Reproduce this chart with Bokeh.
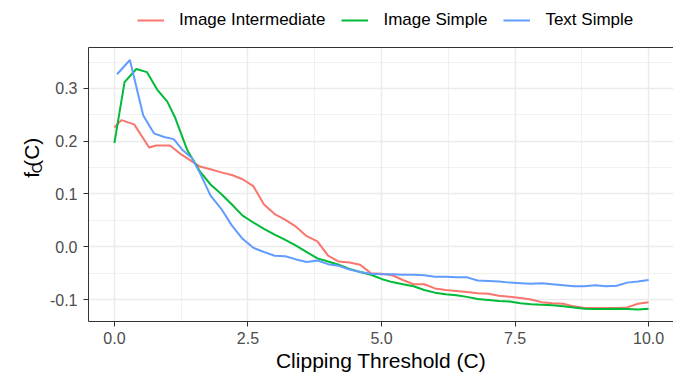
import math
from bokeh.plotting import figure
from bokeh.layouts import column, row
from bokeh.models import FixedTicker, LinearAxis, Legend, LegendItem, Range1d
from bokeh.core.properties import value
from bokeh.embed import file_html
from bokeh.resources import INLINE

# ---------------- data ----------------
series_names = ["Image Intermediate", "Image Simple", "Text Simple"]
series_colors = ["#F8766D", "#00BA38", "#619CFF"]

grid_x = [1.4, 1.6, 1.8, 2.0, 2.2, 2.4, 2.6, 2.8, 3.0, 3.2, 3.4, 3.6, 3.8, 4.0,
          4.2, 4.4, 4.6, 4.8, 5.0, 5.2, 5.4, 5.6, 5.8, 6.0, 6.2, 6.4, 6.6, 6.8,
          7.0, 7.2, 7.4, 7.6, 7.8, 8.0, 8.2, 8.4, 8.6, 8.8, 9.0, 9.2, 9.4, 9.6,
          9.8, 10.0]

inter_x = [0.0, 0.13, 0.37, 0.65, 0.78, 1.04, 1.25] + grid_x
inter_y = [0.226, 0.240, 0.232, 0.188, 0.192, 0.192, 0.175,
           0.165, 0.152, 0.147, 0.141, 0.136, 0.128, 0.115, 0.080, 0.062, 0.051,
           0.038, 0.020, 0.010, -0.017, -0.028, -0.030, -0.034, -0.050, -0.051,
           -0.054, -0.063, -0.071, -0.071, -0.079, -0.082, -0.084, -0.086, -0.088,
           -0.089, -0.093, -0.095, -0.097, -0.100, -0.105, -0.107, -0.108, -0.113,
           -0.116, -0.116, -0.116, -0.116, -0.115, -0.108, -0.105]

img_simple_x = [0.0, 0.19, 0.41, 0.61, 0.80, 0.99, 1.14, 1.36] + grid_x[1:]
img_simple_y = [0.197, 0.312, 0.337, 0.331, 0.298, 0.275, 0.244, 0.184,
                0.143, 0.118, 0.100, 0.080, 0.059, 0.046, 0.034, 0.023, 0.013,
                0.002, -0.010, -0.022, -0.028, -0.034, -0.042, -0.048, -0.053,
                -0.061, -0.067, -0.071, -0.075, -0.082, -0.087, -0.090, -0.092,
                -0.095, -0.099, -0.101, -0.103, -0.104, -0.107, -0.109, -0.110,
                -0.111, -0.113, -0.115, -0.1175, -0.118, -0.118, -0.1175, -0.118,
                -0.119, -0.1175]

txt_simple_x = [0.05, 0.29, 0.54, 0.74, 0.93, 1.11, 1.27, 1.45] + grid_x[1:]
txt_simple_y = [0.327, 0.354, 0.249, 0.215, 0.208, 0.204, 0.184, 0.168,
                0.140, 0.097, 0.072, 0.040, 0.015, -0.002, -0.010, -0.017, -0.018,
                -0.024, -0.029, -0.026, -0.033, -0.036, -0.043, -0.048, -0.051,
                -0.052, -0.052, -0.053, -0.053, -0.054, -0.057, -0.057, -0.058,
                -0.058, -0.064, -0.065, -0.066, -0.068, -0.069, -0.070, -0.069,
                -0.071, -0.073, -0.075, -0.075, -0.073, -0.075, -0.074, -0.068,
                -0.066, -0.063]

x_ticks = [0, 2.5, 5, 7.5, 10]
x_tick_labels = ["0.0", "2.5", "5.0", "7.5", "10.0"]
x_minor = [1.25, 3.75, 6.25, 8.75]
y_ticks = [-0.1, 0.0, 0.1, 0.2, 0.3]
y_tick_labels = ["-0.1", "0.0", "0.1", "0.2", "0.3"]
y_minor = [-0.05, 0.05, 0.15, 0.25, 0.35]

x_title = "Clipping Threshold (C)"
y_title_parts = ["f", "C", "(C)"]   # f_C(C)

# ---------------- styling ----------------
FONT = "Liberation Sans"
GRID = "#EBEBEB"
DARK = "#333333"

LEG_H = 30
TITLE_W = 46
MAIN_H = 374 - LEG_H
NAN = float("nan")


def bare_fig(w, h, xr, yr):
    f = figure(width=w, height=h, output_backend="svg", toolbar_location=None,
               x_range=Range1d(*xr), y_range=Range1d(*yr),
               x_axis_location=None, y_axis_location=None,
               min_border=0, min_border_left=0, min_border_right=0,
               min_border_top=0, min_border_bottom=0)
    f.outline_line_color = None
    f.xgrid.visible = False
    f.ygrid.visible = False
    f.background_fill_color = "white"
    f.border_fill_color = "white"
    return f


# ---------------- main plot ----------------
p = figure(width=673 - TITLE_W, height=MAIN_H, output_backend="svg",
           toolbar_location=None,
           x_range=Range1d(-0.485, 10.466), y_range=Range1d(-0.1417, 0.3777),
           min_border_left=86 - TITLE_W, min_border_right=0,
           min_border_top=47 - LEG_H, min_border_bottom=53)
p.outline_line_color = None
p.background_fill_color = "white"
p.border_fill_color = "white"

xt = FixedTicker(ticks=x_ticks, minor_ticks=x_minor)
yt = FixedTicker(ticks=y_ticks, minor_ticks=y_minor)

for ax, tk, labels in ((p.xaxis[0], xt, x_tick_labels), (p.yaxis[0], yt, y_tick_labels)):
    ax.ticker = tk
    ax.major_label_overrides = {t: l for t, l in zip(tk.ticks, labels)}
    ax.major_label_text_font = FONT
    ax.major_label_text_font_size = "16px"
    ax.major_label_text_color = "#4D4D4D"
    ax.axis_line_color = DARK
    ax.axis_line_width = 1
    ax.major_tick_line_color = DARK
    ax.major_tick_out = 5
    ax.major_tick_in = 0
    ax.minor_tick_line_color = None

p.xaxis[0].major_label_standoff = 5
p.yaxis[0].major_label_standoff = 6
p.xaxis[0].axis_label = x_title
p.xaxis[0].axis_label_text_font = FONT
p.xaxis[0].axis_label_text_font_size = "21px"
p.xaxis[0].axis_label_text_font_style = "normal"
p.xaxis[0].axis_label_text_color = "black"
p.xaxis[0].axis_label_standoff = 2

top_axis = LinearAxis(ticker=FixedTicker(ticks=[]), axis_line_color=DARK,
                      major_tick_line_color=None, minor_tick_line_color=None,
                      major_tick_out=0, major_tick_in=0, major_label_standoff=0,
                      major_label_text_font_size="0px")
p.add_layout(top_axis, "above")

for g, tk in ((p.xgrid[0], xt), (p.ygrid[0], yt)):
    g.ticker = tk
    g.grid_line_color = GRID
    g.grid_line_width = 1.4
    g.minor_grid_line_color = GRID
    g.minor_grid_line_width = 0.7

for xs, ys, c in ((inter_x, inter_y, series_colors[0]),
                  (img_simple_x, img_simple_y, series_colors[1]),
                  (txt_simple_x, txt_simple_y, series_colors[2])):
    p.line(xs, ys, line_color=c, line_width=2)

# ---------------- legend strip on top ----------------
leg_fig = bare_fig(673, LEG_H, (0, 1), (0, 1))
# legend proxies: one NaN point each, so nothing is drawn in the strip itself
leg_renderers = [leg_fig.line([NAN], [NAN], line_color=c, line_width=2) for c in series_colors]
legend = Legend(items=[LegendItem(label=n, renderers=[r]) for n, r in zip(series_names, leg_renderers)],
                orientation="horizontal", location=(137, 0))
legend.label_text_font = FONT
legend.label_text_font_size = "17px"
legend.label_text_color = "black"
legend.glyph_width = 27
legend.glyph_height = 20
legend.label_standoff = 15
legend.spacing = 16
legend.padding = 0
legend.margin = 0
legend.border_line_color = None
legend.background_fill_alpha = 0
leg_fig.add_layout(legend)

# ---------------- y-axis title strip (f_C(C), rotated) ----------------
tfig = bare_fig(TITLE_W, MAIN_H, (0, TITLE_W), (0, MAIN_H))
rot = math.pi / 2
base_y = 374 - 193
tfig.text(x=[31], y=[base_y + 3], text=[y_title_parts[0]], angle=rot,
          text_font=value(FONT), text_font_size="21px", text_color="black",
          text_align="center", text_baseline="alphabetic")
tfig.text(x=[36], y=[base_y + 11.5], text=[y_title_parts[1]], angle=rot,
          text_font=value(FONT), text_font_size="14px", text_color="black",
          text_align="center", text_baseline="alphabetic")
tfig.text(x=[31], y=[base_y + 31.5], text=[y_title_parts[2]], angle=rot,
          text_font=value(FONT), text_font_size="21px", text_color="black",
          text_align="center", text_baseline="alphabetic")

layout = column(leg_fig, row(tfig, p, spacing=0), spacing=0)
open("out.html", "w").write(file_html(layout, INLINE))
